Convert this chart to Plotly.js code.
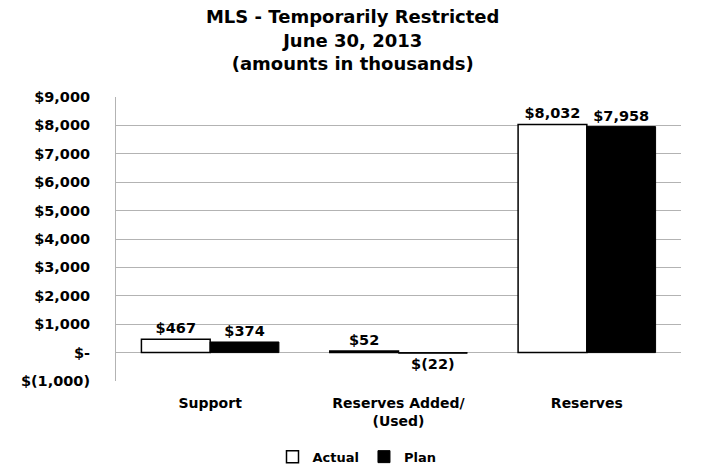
<!DOCTYPE html>
<html>
<head>
<meta charset="utf-8">
<script src="https://cdn.plot.ly/plotly-3.0.1.min.js"></script>
<style>html,body{margin:0;padding:0;background:#fff;}#chart{width:714px;height:466px;}</style>
</head>
<body>
<div id="chart"></div>
<script>
const categories = ["Support", "Reserves Added/<br>(Used)", "Reserves"];
const actualValues = [467, 52, 8032];
const planValues = [374, -22, 7958];
const actualLabels = ["$467", "$52", "$8,032"];
const planLabels = ["$374", "$(22)", "$7,958"];
const tickValues = [-1000, 0, 1000, 2000, 3000, 4000, 5000, 6000, 7000, 8000, 9000];
const tickLabels = ["$(1,000)", "$-", "$1,000", "$2,000", "$3,000", "$4,000", "$5,000", "$6,000", "$7,000", "$8,000", "$9,000"];

const FONT = "DejaVu Sans, Arial Black, sans-serif";
const lblFont = {family: FONT, size: 14.5, color: "#000", weight: "bold"};

const data = [
  {
    type: "bar", name: "Actual", x: categories, y: actualValues,
    text: actualLabels, textposition: "outside", cliponaxis: false,
    textfont: lblFont,
    marker: {color: "#ffffff", line: {color: "#000000", width: 1.5}},
    hoverinfo: "none"
  },
  {
    type: "bar", name: "Plan", x: categories, y: planValues,
    text: planLabels, textposition: "outside", cliponaxis: false,
    textfont: lblFont,
    marker: {color: "#000000", line: {color: "#000000", width: 1}},
    hoverinfo: "none"
  }
];

const layout = {
  width: 714, height: 466,
  margin: {l: 116, r: 33, t: 97, b: 85, autoexpand: false},
  paper_bgcolor: "#fff", plot_bgcolor: "#fff",
  title: {
    text: "MLS - Temporarily Restricted<br>June 30, 2013<br>(amounts in thousands)",
    font: {family: FONT, size: 18, color: "#000", weight: "bold"},
    x: 0.494, xanchor: "center", xref: "container", y: 0.95, yanchor: "top", yref: "container"
  },
  barmode: "group", bargap: 0.27, bargroupgap: 0,
  showlegend: true,
  legend: {
    orientation: "h", x: 0.5, xanchor: "center", xref: "container",
    y: 0.02, yanchor: "middle", yref: "container",
    font: {family: FONT, size: 13, color: "#000", weight: "bold"},
    itemwidth: 30, traceorder: "normal"
  },
  xaxis: {
    type: "category",
    tickfont: {family: FONT, size: 14, color: "#000", weight: "bold"},
    showline: false, showgrid: false, ticks: "", ticklabelstandoff: 12
  },
  yaxis: {
    range: [-1000, 9000],
    tickmode: "array", tickvals: tickValues, ticktext: tickLabels,
    tickfont: {family: FONT, size: 14.5, color: "#000", weight: "bold"},
    showgrid: true, gridcolor: "#b3b3b3", gridwidth: 1,
    showline: true, linecolor: "#b3b3b3", linewidth: 1,
    zeroline: false, ticks: "", ticklabelstandoff: 22
  }
};

Plotly.newPlot("chart", data, layout, {displayModeBar: false, staticPlot: true});
</script>
</body>
</html>
